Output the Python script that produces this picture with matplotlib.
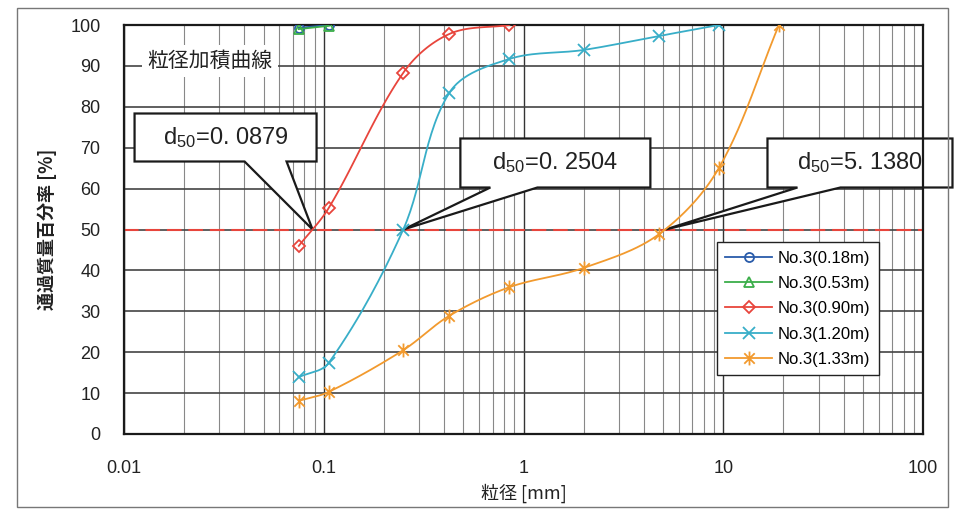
import numpy as np
import matplotlib
matplotlib.use("Agg")
import matplotlib.pyplot as plt
from matplotlib import font_manager as fm
from matplotlib.patches import Polygon, Rectangle
from matplotlib.path import Path
from matplotlib.transforms import IdentityTransform
from matplotlib.ticker import LogLocator, NullFormatter, FixedLocator

# ---- data -------------------------------------------------------------
sieve_b = [0.075, 0.106]
pass_018 = [99.3, 100.0]
pass_053 = [99.0, 99.8]
sieve_r = [0.075, 0.106, 0.25, 0.425, 0.85]
pass_090 = [46.0, 55.3, 88.3, 97.8, 100.0]
sieve_c = [0.075, 0.106, 0.25, 0.425, 0.85, 2.0, 4.75, 9.5]
pass_120 = [13.9, 17.4, 50.0, 83.4, 91.7, 93.9, 97.3, 100.0]
sieve_o = [0.075, 0.106, 0.25, 0.425, 0.85, 2.0, 4.75, 9.5, 19.0]
pass_133 = [8.1, 10.3, 20.5, 28.9, 35.9, 40.6, 48.8, 65.0, 100.0]

labels = ["No.3(0.18m)", "No.3(0.53m)", "No.3(0.90m)", "No.3(1.20m)", "No.3(1.33m)"]
d50_values = [0.0879, 0.2504, 5.1380]
d50_text = ["0. 0879", "0. 2504", "5. 1380"]
x_ticks = [0.01, 0.1, 1, 10, 100]
x_ticklabels = ["0.01", "0.1", "1", "10", "100"]
y_ticks = list(range(0, 101, 10))

# ---- fonts ------------------------------------------------------------
names = {f.name for f in fm.fontManager.ttflist}
num_font = "Liberation Sans" if "Liberation Sans" in names else "DejaVu Sans"
narrow_font = "Liberation Sans Narrow" if "Liberation Sans Narrow" in names else num_font
callout_size = 19 if narrow_font != num_font else 17
jp_font = "Noto Sans CJK JP"
plt.rcParams["font.family"] = [num_font, jp_font, "DejaVu Sans"]
plt.rcParams["mathtext.fontset"] = "custom"
plt.rcParams["mathtext.rm"] = narrow_font
plt.rcParams["mathtext.it"] = narrow_font
plt.rcParams["mathtext.default"] = "rm"

W, H, DPI = 957, 511, 100
fig = plt.figure(figsize=(W / DPI, H / DPI), dpi=DPI, facecolor="white")
ax = fig.add_axes([124 / W, 1 - 434 / H, 799 / W, 409 / H])
ax.set_xscale("log")
ax.set_xlim(0.01, 100)
ax.set_ylim(0, 100)

# screen scale: pixels per decade and per percent, used to keep the smoothing isotropic
SX = 799 / 4.0
SY = 409 / 100.0


def smooth(xs, ys, n=30):
    """Smoothed line through the points: cubic Bezier segments whose control
    handles follow the neighbour-chord direction and scale with segment length."""
    P = np.column_stack([np.log10(np.asarray(xs, float)) * SX, np.asarray(ys, float) * SY])
    m = len(P)
    tang = []
    for i in range(m):
        a = P[i - 1] if i > 0 else P[i]
        b = P[i + 1] if i < m - 1 else P[i]
        v = b - a
        tang.append(v / np.hypot(*v))
    t = np.linspace(0, 1, n)[1:]
    out = [P[0]]
    for i in range(m - 1):
        p1, p2 = P[i], P[i + 1]
        L = np.hypot(*(p2 - p1)) / 3.0
        c1 = p1 + tang[i] * L
        c2 = p2 - tang[i + 1] * L
        seg = ((1 - t) ** 3)[:, None] * p1 + (3 * (1 - t) ** 2 * t)[:, None] * c1 \
            + (3 * (1 - t) * t ** 2)[:, None] * c2 + (t ** 3)[:, None] * p2
        out.extend(seg)
    out = np.array(out)
    return 10 ** (out[:, 0] / SX), out[:, 1] / SY


asterisk = Path([(0, -1), (0, 1), (-0.75, -0.75), (0.75, 0.75), (-0.75, 0.75), (0.75, -0.75)],
                [Path.MOVETO, Path.LINETO, Path.MOVETO, Path.LINETO, Path.MOVETO, Path.LINETO])

series = [
    (sieve_b, pass_018, "#2a5caa", "o", 6.5),
    (sieve_b, pass_053, "#3cae4a", "^", 7),
    (sieve_r, pass_090, "#e8453c", "D", 6),
    (sieve_c, pass_120, "#38aec8", "x", 9),
    (sieve_o, pass_133, "#f29a2e", asterisk, 10),
]

handles = []
for (xs, ys, col, mk, ms), lab in zip(series, labels):
    sx, sy = smooth(xs, ys)
    ax.plot(sx, sy, color=col, lw=1.3, zorder=3)
    ax.plot(xs, ys, ls="none", marker=mk, ms=ms, mfc="none", mec=col, mew=1.3, zorder=3)
    h, = ax.plot([], [], color=col, lw=1.3, marker=mk, ms=ms, mfc="none", mec=col, mew=1.3)
    handles.append(h)

# 50 % line
ax.axhline(50, color="#e8453c", lw=1.5, ls=(0, (7, 3.3)), zorder=2.2)

# grid
ax.xaxis.set_major_locator(FixedLocator(x_ticks))
ax.xaxis.set_minor_locator(LogLocator(base=10, subs=np.arange(2, 10)))
ax.xaxis.set_minor_formatter(NullFormatter())
ax.set_xticks(x_ticks)
ax.set_xticklabels(x_ticklabels)
ax.set_yticks(y_ticks)
ax.set_axisbelow(True)
ax.grid(True, which="major", axis="x", color="#333333", lw=1.0)
ax.grid(True, which="minor", axis="x", color="#888888", lw=0.8)
ax.grid(True, which="major", axis="y", color="#444444", lw=1.2)
ax.tick_params(which="both", length=0)
ax.tick_params(axis="y", pad=17, labelsize=13, labelcolor="#222222")
ax.tick_params(axis="x", pad=19, labelsize=13, labelcolor="#222222")
for s in ax.spines.values():
    s.set_color("#1a1a1a")
    s.set_linewidth(1.6)

# title inside plot
ax.text(0.1076, 0.912, "粒径加積曲線", transform=ax.transAxes, ha="center", va="center",
        fontsize=15, family=[jp_font], color="#222222", zorder=4,
        bbox=dict(boxstyle="square,pad=0.25", fc="white", ec="none"))

# axis labels
fig.text(47 / W, 1 - 229 / H, "通過質量百分率 [%]", rotation=90, ha="center", va="center",
         fontsize=13, family=[jp_font, "DejaVu Sans"], weight="bold", color="#222222")
fig.text(524 / W, 1 - 493 / H, "粒径 [mm]", ha="center", va="center",
         fontsize=13, family=[jp_font, "DejaVu Sans"], color="#222222")

# legend
leg = ax.legend(handles, labels, loc="upper left", bbox_to_anchor=(0.742, 0.469),
                borderaxespad=0, fancybox=False, framealpha=1, edgecolor="#222222",
                handlelength=2.8, handletextpad=0.35, labelspacing=0.62,
                borderpad=0.5, prop={"family": num_font, "size": 12})
leg.get_frame().set_linewidth(1.0)
leg.set_zorder(6)

# d50 callouts (pixel offsets from the d50 point: left, right, top, bottom, wedge a, wedge b)
callouts = [
    (-178, 4, 116, 68, -68, -26),
    (57, 247, 91, 42, 87, 134),
    (102, 287, 91, 42, 132, 175),
]
fig.canvas.draw()
for d, txt, (l, r, t, b, wa, wb) in zip(d50_values, d50_text, callouts):
    tx, ty = ax.transData.transform((d, 50))
    verts = [(tx + l, ty + t), (tx + r, ty + t), (tx + r, ty + b), (tx + wb, ty + b),
             (tx, ty), (tx + wa, ty + b), (tx + l, ty + b)]
    poly = Polygon(verts, closed=True, fc="white", ec="#1a1a1a", lw=1.6,
                   transform=IdentityTransform(), clip_on=False, zorder=2.4)
    ax.add_patch(poly)
    cx, cy = tx + (l + r) / 2, ty + (t + b) / 2
    fig.text(cx / W, cy / H, r"$\mathrm{d}_{\mathrm{50}}$=" + txt, ha="center", va="center",
             fontsize=callout_size, family=[narrow_font], color="#222222", zorder=7)

# outer frame
fig.patches.append(Rectangle((17 / W, 1 - 507 / H), 931 / W, 499 / H, transform=fig.transFigure,
                             fill=False, ec="#777777", lw=1.0))

fig.savefig("out.png", dpi=DPI, facecolor="white")
